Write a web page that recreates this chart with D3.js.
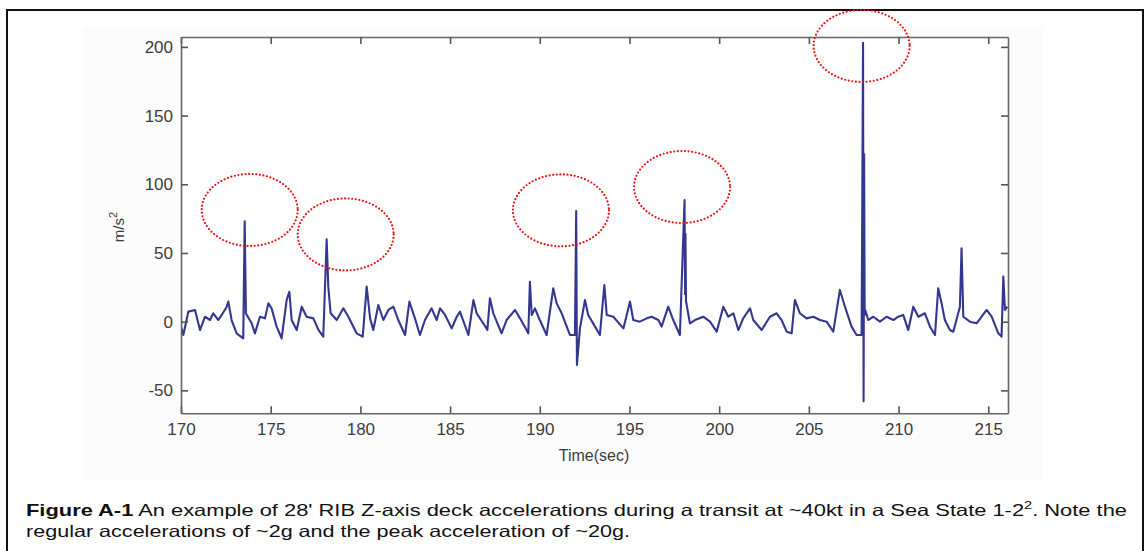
<!DOCTYPE html>
<html><head><meta charset="utf-8">
<script src="https://cdn.jsdelivr.net/npm/d3@7"></script>
<style>body{margin:0;background:#fff}svg{display:block}</style>
</head><body>
<script>
// ---- data ----
const timeSec = [170.00,170.13,170.41,170.78,171.06,171.34,171.62,171.80,172.08,172.27,172.55,172.64,172.82,173.10,173.47,173.55,173.62,173.94,174.12,174.40,174.68,174.87,175.05,175.33,175.61,175.89,176.04,176.17,176.45,176.73,177.00,177.38,177.66,177.93,178.12,178.21,178.34,178.68,179.05,179.33,179.79,180.13,180.35,180.54,180.72,181.00,181.28,181.56,181.84,182.11,182.49,182.73,183.04,183.32,183.60,183.97,184.25,184.44,184.72,185.09,185.37,185.55,186.02,186.30,186.48,186.85,187.08,187.22,187.41,187.87,188.15,188.62,188.90,189.36,189.45,189.55,189.73,189.92,190.38,190.75,190.94,191.22,191.68,191.96,192.03,192.07,192.24,192.52,192.70,193.08,193.35,193.60,193.73,194.10,194.66,195.03,195.21,195.58,195.96,196.23,196.61,196.79,197.16,197.44,197.81,198.07,198.10,198.12,198.15,198.37,198.65,199.11,199.49,199.86,200.23,200.51,200.79,201.07,201.34,201.72,201.90,202.37,202.83,203.20,203.48,203.76,204.04,204.22,204.50,204.87,205.25,205.62,205.99,206.36,206.73,207.01,207.38,207.66,207.94,208.02,208.05,208.08,208.11,208.14,208.31,208.59,208.96,209.33,209.71,209.98,210.26,210.54,210.82,211.10,211.47,211.75,212.03,212.21,212.40,212.58,212.86,213.05,213.42,213.51,213.61,213.98,214.35,214.91,215.19,215.56,215.74,215.84,215.93,216.06];
const accel = [-3.6,-9.7,7.3,8.5,-6.1,3.6,1.2,6.1,1.2,4.9,10.9,14.6,1.2,-8.5,-12.1,73,6,-1.2,-8.5,3.6,2.4,13.3,9.7,-3.6,-12.1,15.8,21.8,1.2,-6.1,10.9,3.6,2.4,-6,-10.9,60,25.5,6.1,1.2,9.7,3.6,-8.5,-10.9,25.5,2.4,-6.1,12.1,1.2,8.5,10.9,1.2,-9.7,14.6,2.4,-9.7,1.2,9.7,1.2,9.7,4.9,-4.9,3.6,7.3,-9.7,15.8,6.1,-1.2,-6,17,6.1,-8.5,1.2,8.5,2.4,-8.5,29.1,4.9,9.7,3.6,-9.7,24.3,13.3,6.1,-9.7,-9.7,80.5,-31.5,-4.9,15.8,4.9,-3.6,-9.7,26.7,4.9,3.6,-4.9,14.6,1.2,0,2.4,3.6,1.2,-3.6,10.9,1.2,-9.7,88.5,20,64,15,-1.2,1.2,3.6,0,-7.3,10.9,3.6,6.1,-6.1,2.4,9.7,1.2,-6.1,3.6,6.1,1.2,-7.3,-8.5,15.8,6.1,2.4,3.6,1.2,0,-7.3,23.1,10.9,-3.6,-9.7,-9.7,203,-58,122,5,8.5,1.2,3.6,0,3.6,1.2,3.6,4.9,-6.1,10.9,3.6,6.1,-3.6,-9.7,24.3,13.3,1.2,-6.1,-7.3,10.9,53.4,3.6,0,-1.2,8.5,3.6,-8.5,-10.9,32.8,8.5,10.9];
const xTicks = [170,175,180,185,190,195,200,205,210,215];
const yTicks = [-50,0,50,100,150,200];
const xDomain = [170, 216.1];
const yDomain = [-66.7, 207.2];
const highlightT = [173.83,179.18,191.18,197.93,207.94];
const highlightV = [81.3,63.5,81.0,98.0,200.7];
const xLabel = "Time(sec)";
const yLabel = "m/s";
const captionBold = "Figure A-1";
const captionLine1 = " An example of 28' RIB Z-axis deck accelerations during a transit at ~40kt in a Sea State 1-2";
const captionLine1End = ". Note the";
const captionLine2 = "regular accelerations of ~2g and the peak acceleration of ~20g.";

// ---- drawing ----
const W = 1145, H = 551;
const svg = d3.select("body").append("svg").attr("width", W).attr("height", H)
  .style("font-family", "'Liberation Sans', Arial, Helvetica, sans-serif");

svg.append("rect").attr("width", W).attr("height", H).attr("fill", "#fff");
svg.append("rect").attr("x", 83).attr("y", 27).attr("width", 960).attr("height", 453).attr("fill", "#fcfcfc");
svg.append("rect").attr("x", 7).attr("y", 10).attr("width", 1136).attr("height", 570)
  .attr("fill", "none").attr("stroke", "#111").attr("stroke-width", 2);

const pLeft = 181, pRight = 1008, pTop = 37, pBottom = 413.3;
const x = d3.scaleLinear().domain(xDomain).range([pLeft, pRight]);
const y = d3.scaleLinear().domain(yDomain).range([pBottom, pTop]);

svg.append("rect").attr("x", pLeft).attr("y", pTop).attr("width", pRight-pLeft).attr("height", pBottom-pTop).attr("fill", "#fff");

svg.append("clipPath").attr("id", "clip").append("rect")
  .attr("x", pLeft).attr("y", pTop).attr("width", pRight-pLeft).attr("height", pBottom-pTop);

const data = timeSec.map((t, i) => ({t, v: accel[i]}));
const line = d3.line().x(d => x(d.t)).y(d => y(d.v));
svg.append("path").datum(data).attr("clip-path", "url(#clip)")
  .attr("d", line).attr("fill", "none").attr("stroke", "#33378f")
  .attr("stroke-width", 2.1).attr("stroke-linejoin", "round");

const fmt = d => String(d);
function styleAxis(g) {
  g.select(".domain").attr("stroke", "#666").attr("stroke-width", 1.6);
  g.selectAll(".tick line").attr("stroke", "#555").attr("stroke-width", 1.6);
  g.selectAll(".tick text").attr("fill", "#3c3c3c").style("font-size", "17px")
   .style("font-family", "'Liberation Sans', Arial, sans-serif");
}
svg.append("g").attr("transform", `translate(0,${pBottom})`)
  .call(d3.axisBottom(x).tickValues(xTicks).tickFormat(fmt).tickSizeInner(-7).tickSizeOuter(0).tickPadding(10))
  .call(styleAxis);
svg.append("g").attr("transform", `translate(0,${pTop})`)
  .call(d3.axisTop(x).tickValues(xTicks).tickSizeInner(-7).tickSizeOuter(0).tickFormat(""))
  .call(styleAxis);
svg.append("g").attr("transform", `translate(${pLeft},0)`)
  .call(d3.axisLeft(y).tickValues(yTicks).tickFormat(fmt).tickSizeInner(-7).tickSizeOuter(0).tickPadding(8))
  .call(styleAxis);
svg.append("g").attr("transform", `translate(${pRight},0)`)
  .call(d3.axisRight(y).tickValues(yTicks).tickSizeInner(-7).tickSizeOuter(0).tickFormat(""))
  .call(styleAxis);

// axis labels
svg.append("text").attr("x", 594).attr("y", 461).attr("text-anchor", "middle")
  .attr("fill", "#3c3c3c").style("font-size", "16px").text(xLabel);
const yl = svg.append("text").attr("transform", "translate(124,227) rotate(-90)")
  .attr("text-anchor", "middle").attr("fill", "#3c3c3c").style("font-size", "15px");
yl.append("tspan").text(yLabel);
yl.append("tspan").attr("dy", -7).style("font-size", "11px").text("2");

// highlight ellipses
svg.selectAll("ellipse.hl").data(highlightT).join("ellipse").attr("class", "hl")
  .attr("cx", (d) => x(d)).attr("cy", (d, i) => y(highlightV[i]))
  .attr("rx", 48).attr("ry", 36).attr("fill", "none")
  .attr("stroke", "#e81010").attr("stroke-width", 2.2)
  .attr("stroke-dasharray", "0,3.6").attr("stroke-linecap", "round");

// caption
const c1 = svg.append("text").attr("x", 26).attr("y", 516).attr("fill", "#111")
  .style("font-size", "16.5px").attr("textLength", 1101).attr("lengthAdjust", "spacingAndGlyphs");
c1.append("tspan").style("font-weight", "bold").text(captionBold);
c1.append("tspan").text(captionLine1);
c1.append("tspan").attr("dy", -7).style("font-size", "11px").text("2");
c1.append("tspan").attr("dy", 7).text(captionLine1End);
svg.append("text").attr("x", 26).attr("y", 537).attr("fill", "#111")
  .style("font-size", "16.5px").attr("textLength", 604).attr("lengthAdjust", "spacingAndGlyphs")
  .text(captionLine2);
</script>
</body></html>
